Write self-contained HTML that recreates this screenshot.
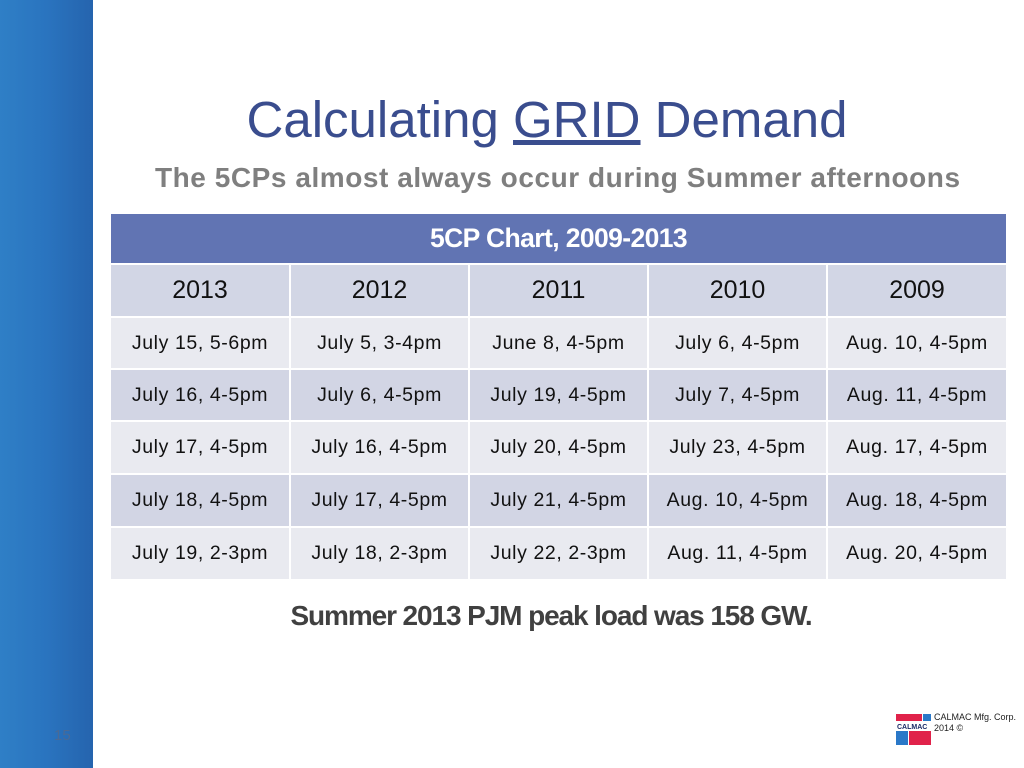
<!DOCTYPE html>
<html><head><meta charset="utf-8"><style>
body{margin:0;width:1024px;height:768px;position:relative;background:#fff;font-family:"Liberation Sans",sans-serif;overflow:hidden}
#side{position:absolute;left:0;top:0;width:93px;height:768px;background:linear-gradient(90deg,#2f7fc6 0%,#2a74bf 50%,#2564ae 100%)}
#pg{position:absolute;left:54px;top:727px;font-size:15px;color:#4a6a95}
h1{position:absolute;left:0;width:1094px;top:90px;margin:0;text-align:center;font-weight:normal;font-size:51px;color:#3a4d8e}
#sub{position:absolute;left:155px;top:162px;font-size:28px;font-weight:bold;color:#7f7f7f;letter-spacing:0.55px}
table{position:absolute;left:109px;top:212px;border-collapse:separate;border-spacing:2px}
td{text-align:center;color:#111;font-size:19.5px;padding:0;letter-spacing:0.6px}
.hd td{background:#6174b3;color:#fff;font-weight:bold;height:49px;font-size:26.5px;letter-spacing:-0.6px}
.yr td{background:#d2d6e5;height:51px;font-size:25px;letter-spacing:0}
.a td{background:#e9eaf0;height:50px}
.b td{background:#d2d5e4;height:50px}
.t td{height:51px}
#foot{position:absolute;left:0;width:1102px;top:600px;text-align:center;font-size:28px;font-weight:bold;color:#404040;letter-spacing:-1.1px}
#logo{position:absolute;left:896px;top:711px}
#ltxt{position:absolute;left:934px;top:712px;font-size:9px;color:#222;line-height:11px}
</style></head><body>
<div id="side"></div>
<div id="pg">15</div>
<h1>Calculating <u>GRID</u> Demand</h1>
<div id="sub">The 5CPs almost always occur during Summer afternoons</div>
<table>
<tr class="hd"><td colspan="5">5CP Chart, 2009-2013</td></tr>
<tr class="yr"><td style="width:178px">2013</td><td style="width:177px">2012</td><td style="width:177px">2011</td><td style="width:177px">2010</td><td style="width:178px">2009</td></tr>
<tr class="a"><td>July 15, 5-6pm</td><td>July 5, 3-4pm</td><td>June 8, 4-5pm</td><td>July 6, 4-5pm</td><td>Aug. 10, 4-5pm</td></tr>
<tr class="b"><td>July 16, 4-5pm</td><td>July 6, 4-5pm</td><td>July 19, 4-5pm</td><td>July 7, 4-5pm</td><td>Aug. 11, 4-5pm</td></tr>
<tr class="a t"><td>July 17, 4-5pm</td><td>July 16, 4-5pm</td><td>July 20, 4-5pm</td><td>July 23, 4-5pm</td><td>Aug. 17, 4-5pm</td></tr>
<tr class="b t"><td>July 18, 4-5pm</td><td>July 17, 4-5pm</td><td>July 21, 4-5pm</td><td>Aug. 10, 4-5pm</td><td>Aug. 18, 4-5pm</td></tr>
<tr class="a t"><td>July 19, 2-3pm</td><td>July 18, 2-3pm</td><td>July 22, 2-3pm</td><td>Aug. 11, 4-5pm</td><td>Aug. 20, 4-5pm</td></tr>
</table>
<div id="foot">Summer 2013 PJM peak load was 158 GW.</div>
<svg id="logo" width="38" height="36">
<rect x="0" y="3" width="26" height="7" fill="#e0224a"/><rect x="27" y="3" width="8" height="7" fill="#2a78c8"/>
<rect x="0" y="11" width="35" height="8" fill="#fff"/><text x="1" y="18" font-size="7" font-weight="bold" fill="#1a2a66" font-family="Liberation Sans">CALMAC</text>
<rect x="0" y="20" width="12" height="14" fill="#2a78c8"/><rect x="13" y="20" width="22" height="14" fill="#e0224a"/>
</svg>
<div id="ltxt">CALMAC Mfg. Corp.<br>2014 ©</div>
</body></html>
